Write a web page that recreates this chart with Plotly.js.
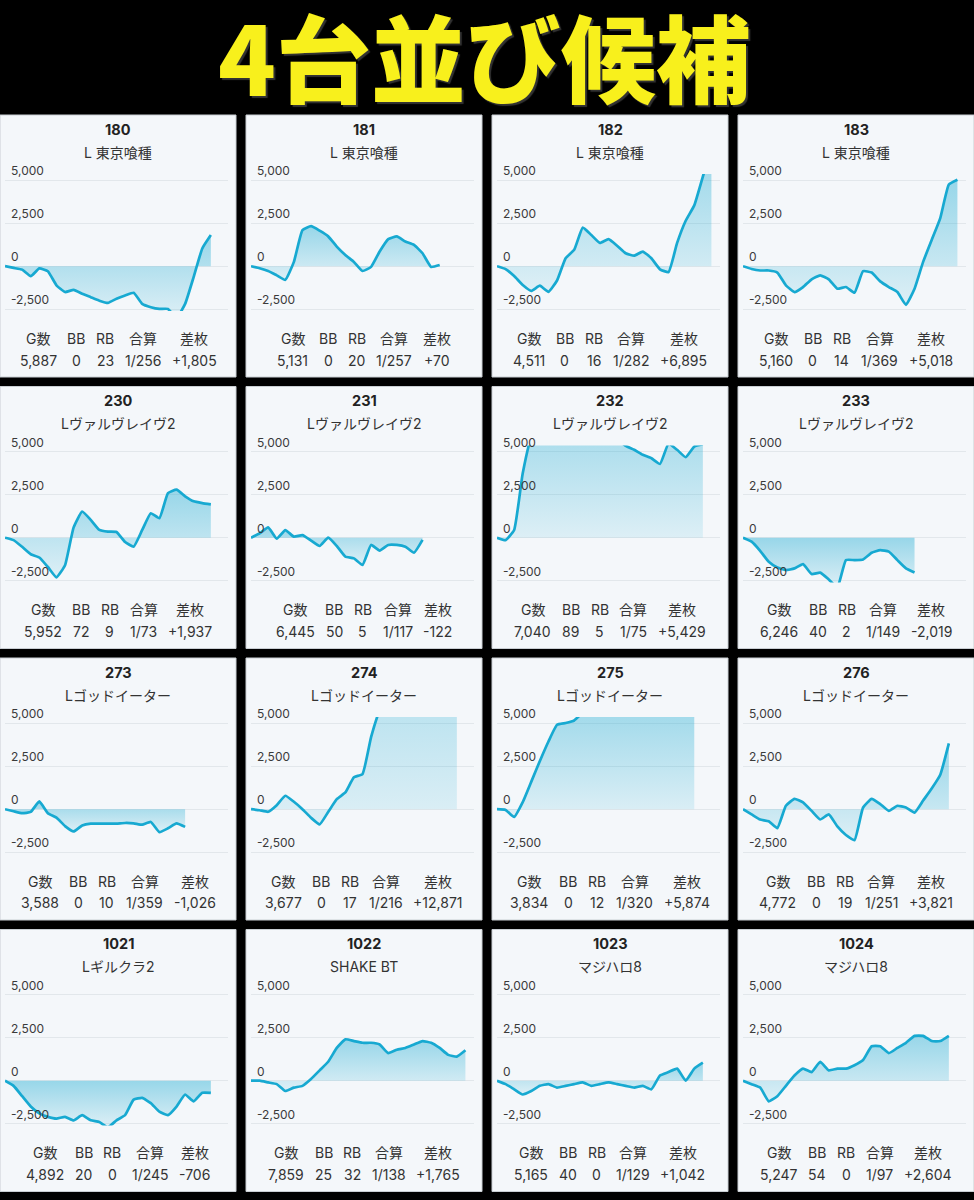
<!DOCTYPE html>
<html><head><meta charset="utf-8">
<script src="https://cdn.plot.ly/plotly-3.0.1.min.js"></script>
<style>html,body{margin:0;padding:0;background:#000;} #chart{width:974px;height:1200px;}</style>
</head><body><div id="chart"></div>
<script>
// ---------- data ----------
const titleText = '4台並び候補';
const machineNumbers = ['180','181','182','183','230','231','232','233','273','274','275','276','1021','1022','1023','1024'];
const machineNames = ['L 東京喰種','L 東京喰種','L 東京喰種','L 東京喰種',
  'Lヴァルヴレイヴ2','Lヴァルヴレイヴ2','Lヴァルヴレイヴ2','Lヴァルヴレイヴ2',
  'Lゴッドイーター','Lゴッドイーター','Lゴッドイーター','Lゴッドイーター',
  'Lギルクラ2','SHAKE BT','マジハロ8','マジハロ8'];
const statHeaders = ['G数','BB','RB','合算','差枚'];
const gameCounts = ['5,887','5,131','4,511','5,160','5,952','6,445','7,040','6,246','3,588','3,677','3,834','4,772','4,892','7,859','5,165','5,247'];
const bbCounts = ['0','0','0','0','72','50','89','40','0','0','0','0','20','25','40','54'];
const rbCounts = ['23','20','16','14','9','5','5','2','10','17','12','19','0','32','0','0'];
const combinedOdds = ['1/256','1/257','1/282','1/369','1/73','1/117','1/75','1/149','1/359','1/216','1/320','1/251','1/245','1/138','1/129','1/97'];
const diffCoins = ['+1,805','+70','+6,895','+5,018','+1,937','-122','+5,429','-2,019','-1,026','+12,871','+5,874','+3,821','-706','+1,765','+1,042','+2,604'];
const yTickVals = [-2500, 0, 2500, 5000];
const yTickText = ['-2,500', '0', '2,500', '5,000'];

const s180 = [0,-100,-200,-580,-130,-290,-1110,-1500,-1370,-1600,-1800,-2000,-2130,-1890,-1700,-1540,-2190,-2380,-2480,-2480,-3000,-2190,-620,1030,1805];
const s181 = [0,-120,-280,-530,-790,250,2100,2320,2060,1730,1140,650,250,-280,-40,850,1570,1730,1430,1240,750,-40,70];
const s182 = [0,-170,-570,-1090,-1430,-1130,-1490,-830,460,950,2240,1810,1350,1570,1190,750,610,850,460,-180,-340,1350,2640,3530,5200,6895];
const s183 = [0,-160,-250,-250,-370,-1110,-1500,-1210,-760,-530,-760,-1310,-1210,-1540,-290,-370,-880,-1210,-1500,-2240,-1310,250,1520,2790,4740,5018];
const s230 = [0,-140,-530,-960,-1150,-1700,-2300,-1600,600,1520,1030,450,350,330,-250,-520,450,1420,1130,2590,2790,2400,2110,2010,1937];
const s231 = [0,250,600,-60,440,60,150,-170,-480,0,-480,-1100,-1200,-1580,-420,-750,-420,-420,-520,-870,-122];
const s232 = [0,-140,450,3740,5800,6200,6800,7300,7000,7600,7900,7400,6900,6500,5800,5330,5100,4810,4610,4280,5450,5100,4670,5290,5429];
const s233 = [0,-230,-760,-1400,-1730,-1880,-1780,-1530,-2110,-2030,-2420,-2900,-1300,-1300,-1260,-870,-720,-810,-1300,-1780,-2019];
const s273 = [0,-120,-230,-160,450,-230,-490,-980,-1290,-940,-840,-840,-840,-840,-800,-820,-900,-740,-1330,-1110,-820,-1026];
const s274 = [0,-60,-150,230,780,430,0,-500,-880,-160,580,970,1850,2040,4180,5750,6800,7600,8400,9100,9900,10700,11500,12200,12871];
const s275 = [0,-40,-450,410,1600,2800,3930,4900,5000,5150,5600,5800,6100,6300,6000,6400,6200,6600,6300,6100,5900,6000,5950,5874];
const s276 = [0,-300,-600,-700,-1100,200,600,400,-100,-600,-300,-1000,-1500,-1800,100,600,300,-100,200,100,-200,500,1200,2000,3821];
const s1021 = [0,-300,-900,-1500,-1900,-2100,-2200,-2100,-2300,-2000,-2300,-2400,-2700,-2300,-2000,-1100,-1000,-1300,-1800,-2000,-1500,-800,-1200,-700,-706];
const s1022 = [0,0,-100,-200,-600,-400,-300,100,600,1100,1900,2400,2300,2200,2200,2100,1600,1800,1900,2100,2300,2200,1900,1500,1400,1765];
const s1023 = [0,-200,-500,-800,-600,-300,-200,-400,-300,-200,-100,-300,-200,-100,-200,-300,-400,-300,-500,300,500,700,0,700,1042];
const s1024 = [0,-200,-400,-1200,-900,-300,300,700,500,1100,600,700,700,900,1200,2000,2000,1600,1900,2200,2600,2600,2300,2300,2604];
const seriesList = [s180,s181,s182,s183,s230,s231,s232,s233,s273,s274,s275,s276,s1021,s1022,s1023,s1024];

// ---------- layout ----------
const W = 974, H = 1200;
const colLeft = [0, 246, 492, 738];
const rowTop = [115, 386.5, 658, 929.5];
const panelW = 236, panelH = 262;
const plotL = 5, plotR = 228, plotT = 59, plotB = 196;
const X = p => p / W;
const Y = p => 1 - p / H;
const textFamily = "Inter, 'Noto Sans CJK JP', sans-serif";
const lineColor = '#17a9d1';

const canvas = document.createElement('canvas');
const ctx = canvas.getContext('2d');
ctx.font = "14px Inter, 'Noto Sans CJK JP', sans-serif";
const tw = s => ctx.measureText(s).width;

const traces = [];
const shapes = [];
const annotations = [];
const layout = {
  width: W, height: H,
  margin: {l: 0, r: 0, t: 0, b: 0},
  paper_bgcolor: '#000000',
  plot_bgcolor: '#f4f7fa',
  showlegend: false,
  font: {family: textFamily, color: '#333333'},
};

annotations.push({
  text: titleText, xref: 'paper', yref: 'paper', x: X(484), y: Y(54),
  xanchor: 'center', yanchor: 'middle', showarrow: false,
  font: {family: "'Noto Sans CJK JP', sans-serif", size: 95, weight: 900, color: '#f8f01c',
         shadow: '2px 2px 1px rgba(60,60,60,0.85)'}
});

seriesList.forEach((s, i) => {
  const r = Math.floor(i / 4), c = i % 4;
  const L = colLeft[c], T = rowTop[r];
  const n = i + 1;
  const sfx = (n === 1 ? '' : String(n));
  layout['xaxis' + sfx] = {domain: [X(L + plotL), X(L + plotR)], range: [0, 26], visible: false, fixedrange: true,
                anchor: 'y' + sfx};
  layout['yaxis' + sfx] = {domain: [Y(T + plotB), Y(T + plotT)], range: [-2600, 5350], fixedrange: true,
                anchor: 'x' + sfx, tickvals: yTickVals, showticklabels: false,
                showgrid: true, gridcolor: '#e2e7eb', gridwidth: 1, zeroline: false, showline: false, ticks: ''};
  shapes.push({type: 'rect', xref: 'paper', yref: 'paper', layer: 'below',
               x0: X(L), x1: X(L + panelW), y0: Y(T + panelH), y1: Y(T),
               fillcolor: '#f4f7fa', line: {color: '#c9ced3', width: 1}});
  traces.push({
    type: 'scatter', mode: 'lines', x: s.map((_, k) => k), y: s,
    xaxis: 'x' + sfx, yaxis: 'y' + sfx,
    line: {color: lineColor, width: 2.7, shape: 'spline', smoothing: 0.4},
    fill: 'tozeroy',
    fillgradient: {type: 'vertical', colorscale: [[0, 'rgba(23,169,209,0.10)'], [1, 'rgba(23,169,209,0.42)']]},
    hoverinfo: 'skip'
  });
  // y tick labels placed on the axis values, above gridlines
  yTickVals.forEach((v, k) => {
    annotations.push({text: yTickText[k], xref: 'x' + sfx + ' domain', yref: 'y' + sfx,
      x: 0, y: v, xanchor: 'left', yanchor: 'bottom', xshift: 4, yshift: 0, showarrow: false,
      font: {size: 12, color: '#3a3a3a', family: 'Inter, sans-serif'}});
  });
  annotations.push({text: '<b>' + machineNumbers[i] + '</b>', xref: 'paper', yref: 'paper',
    x: X(L + panelW / 2), y: Y(T + 14), xanchor: 'center', yanchor: 'middle', showarrow: false,
    font: {size: 14.5, color: '#222222', family: 'Inter, sans-serif'}});
  annotations.push({text: machineNames[i], xref: 'paper', yref: 'paper',
    x: X(L + panelW / 2), y: Y(T + 37), xanchor: 'center', yanchor: 'middle', showarrow: false,
    font: {size: 14, color: '#333333', family: textFamily}});
  // stats table
  const vals = [gameCounts[i], bbCounts[i], rbCounts[i], combinedOdds[i], diffCoins[i]];
  const widths = statHeaders.map((h, k) => Math.max(tw(h), tw(vals[k])));
  const gap = 10.5;
  const total = widths.reduce((a, b) => a + b, 0) + gap * (widths.length - 1);
  let cx = L + panelW / 2 - total / 2;
  widths.forEach((w, k) => {
    const center = cx + w / 2;
    annotations.push({text: statHeaders[k], xref: 'paper', yref: 'paper', x: X(center), y: Y(T + 223),
      xanchor: 'center', yanchor: 'middle', showarrow: false, font: {size: 14, color: '#333333', family: textFamily}});
    annotations.push({text: vals[k], xref: 'paper', yref: 'paper', x: X(center), y: Y(T + 245),
      xanchor: 'center', yanchor: 'middle', showarrow: false, font: {size: 14, color: '#333333', family: 'Inter, sans-serif'}});
    cx += w + gap;
  });
});

layout.shapes = shapes;
layout.annotations = annotations;
Plotly.newPlot('chart', traces, layout, {staticPlot: true, displayModeBar: false});
</script>
</body></html>
